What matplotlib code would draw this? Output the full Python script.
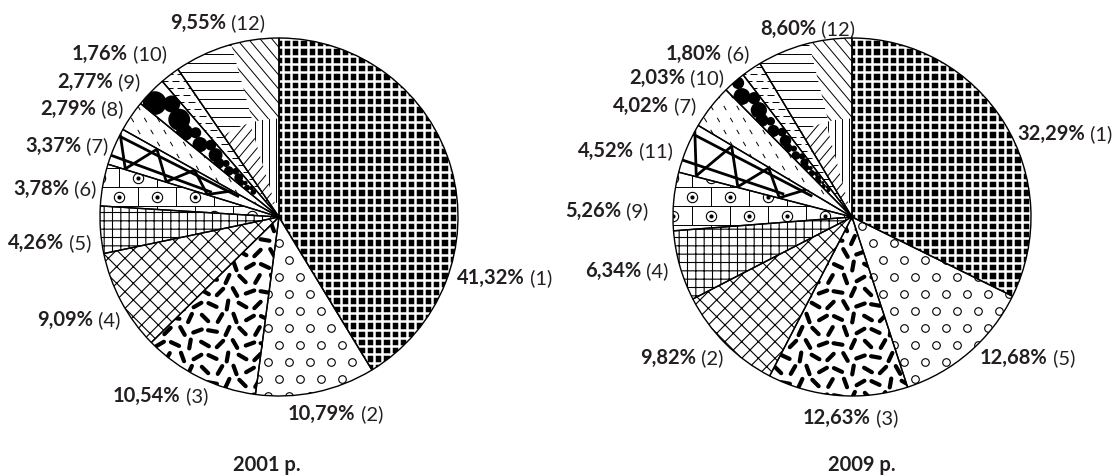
import numpy as np
import matplotlib
matplotlib.use('Agg')
import matplotlib.pyplot as plt
from matplotlib.patches import Wedge
from matplotlib.collections import LineCollection

W, H = 1116, 477

# data: slices in clockwise order starting at 12 o'clock
shares_2001 = [41.32, 10.79, 10.54, 9.09, 4.26, 3.78, 3.37, 2.79, 2.77, 1.76, 9.55]
groups_2001 = [1, 2, 3, 4, 5, 6, 7, 8, 9, 10, 12]
shares_2009 = [32.29, 12.68, 12.63, 9.82, 6.34, 5.26, 4.52, 4.02, 2.03, 1.80, 8.60]
groups_2009 = [1, 5, 3, 2, 4, 9, 11, 7, 10, 6, 12]
years = ['2001 р.', '2009 р.']

# layout (pixels from top-left)
pie_centers = [(279, 218), (852, 218)]
pie_radius = 179
label_pos_2001 = [(457, 277), (288, 413), (113, 395), (37, 319), (8, 242), (13, 188),
                  (25, 145), (40, 108), (57, 81), (72, 53), (170, 22)]
label_pos_2009 = [(1017, 133), (980, 357), (803, 417), (640, 357), (585, 270), (565, 210),
                  (578, 150), (613, 105), (629, 77), (666, 53), (760, 28)]
title_pos = [(267, 464), (862, 464)]

FAM = ['Lato', 'Noto Sans', 'DejaVu Sans']
FS = 14.5

plt.rcParams['hatch.linewidth'] = 0.8

fig = plt.figure(figsize=(W / 100, H / 100), dpi=100)
ax = fig.add_axes([0, 0, 1, 1])


def geom(w):
    cx, cy = w.center
    return cx, cy, w.r, w.theta1, w.theta2


def add(coll, clip):
    coll.set_clip_path(clip)
    coll.set_zorder(2)
    ax.add_collection(coll)


def grid_pts(w, dx, dy, stagger=True):
    cx, cy, R, _, _ = geom(w)
    pts = []
    for j, y in enumerate(np.arange(cy - R, cy + R + dy, dy)):
        off = dx / 2 if (stagger and j % 2) else 0
        for i, x in enumerate(np.arange(cx - R - off, cx + R + dx, dx)):
            pts.append((x, y, i, j))
    return pts


def parallel(clip, cx, cy, R, ang, sp, lw=0.7):
    a = np.radians(ang)
    d = np.array([np.cos(a), np.sin(a)])
    n = np.array([-np.sin(a), np.cos(a)])
    c = np.array([cx, cy])
    segs = [[c + k * n - 1.5 * R * d, c + k * n + 1.5 * R * d] for k in np.arange(-R, R, sp)]
    add(LineCollection(segs, colors='black', linewidths=lw), clip)


def sub_wedge(cx, cy, R, t1, t2, r_in, r_out):
    return Wedge((cx, cy), r_out, t1, t2, width=r_out - r_in, transform=ax.transData)


def pat_squares(w):
    cx, cy, R, _, _ = geom(w)
    w.set_facecolor('black')
    p = 8.3
    segs = []
    for k in np.arange(-R, R + p, p):
        segs.append([(cx - R, cy + k), (cx + R, cy + k)])
        segs.append([(cx + k, cy - R), (cx + k, cy + R)])
    add(LineCollection(segs, colors='white', linewidths=1.8), w)


def pat_circles(w):
    pts = grid_pts(w, 21, 17)
    sc = ax.scatter([p[0] for p in pts], [p[1] for p in pts], s=30, marker='o',
                    facecolors='white', edgecolors='black', linewidths=0.8)
    sc.set_clip_path(w)
    sc.set_zorder(2)


def pat_dashes(w):
    angs = [65, 155, 20, 110, 45, 135, 80, 170, 30, 120, 60, 150]
    segs = []
    for x, y, i, j in grid_pts(w, 15, 13):
        a = np.radians(angs[(i * 5 + j * 3) % len(angs)])
        dx, dy = 4.5 * np.cos(a), 4.5 * np.sin(a)
        segs.append([(x - dx, y - dy), (x + dx, y + dy)])
    add(LineCollection(segs, colors='black', linewidths=3.0, capstyle='round'), w)


def pat_cross(w):
    w.set_hatch('xx')


def pat_grid(w):
    w.set_hatch('++')


def pat_bricks(w):
    cx, cy, R, _, _ = geom(w)
    rh, bw = 19, 38
    segs = []
    cpts = []
    for j, y in enumerate(np.arange(cy - R, cy + R, rh)):
        segs.append([(cx - R, y), (cx + R, y)])
        off = bw / 2 if j % 2 else 0
        for x in np.arange(cx - R - off, cx + R, bw):
            segs.append([(x, y), (x, y + rh)])
            cpts.append((x + bw / 2, y + rh / 2))
    add(LineCollection(segs, colors='black', linewidths=0.7), w)
    xs = [p[0] for p in cpts]
    ys = [p[1] for p in cpts]
    sc = ax.scatter(xs, ys, s=55, facecolors='white', edgecolors='black', linewidths=0.8)
    sc.set_clip_path(w)
    sc.set_zorder(2)
    sc2 = ax.scatter(xs, ys, s=4, color='black')
    sc2.set_clip_path(w)
    sc2.set_zorder(2)


def polar(cx, cy, r, t):
    t = np.radians(t)
    return (cx + r * np.cos(t), cy + r * np.sin(t))


def pat_thick(w):
    cx, cy, R, t1, t2 = geom(w)
    dt = t2 - t1
    segs = [[polar(cx, cy, 0.25 * R, t1 + 0.2 * dt), polar(cx, cy, R, t1 + 0.2 * dt)],
            [polar(cx, cy, 0.4 * R, t1 + 0.75 * dt), polar(cx, cy, R, t1 + 0.75 * dt)]]
    rs = np.arange(0.3, 1.05, 0.12)
    for k in range(len(rs) - 1):
        f1 = 0.02 if k % 2 == 0 else 0.98
        f2 = 0.98 if k % 2 == 0 else 0.02
        segs.append([polar(cx, cy, rs[k] * R, t1 + f1 * dt), polar(cx, cy, rs[k + 1] * R, t1 + f2 * dt)])
    add(LineCollection(segs, colors='black', linewidths=2.0), w)


def pat_light(w):
    segs = []
    a = np.radians(120)
    for x, y, i, j in grid_pts(w, 13, 12):
        dx, dy = 2.5 * np.cos(a), 2.5 * np.sin(a)
        segs.append([(x - dx, y - dy), (x + dx, y + dy)])
    add(LineCollection(segs, colors='black', linewidths=0.7), w)


def pat_blobs(w):
    cx, cy, R, t1, t2 = geom(w)
    dt = t2 - t1
    tm = (t1 + t2) / 2
    sizes = [1.0, 0.7, 0.9, 0.6, 0.85]
    offs = [0.0, -0.22, 0.18, -0.1, 0.25]
    xs, ys, ss = [], [], []
    r = 0.2 * R
    k = 0
    while r < R:
        width = 2 * r * np.sin(np.radians(dt / 2))
        d = max(width * 0.9 * sizes[k % 5], 2.5)
        x, y = polar(cx, cy, r, tm + offs[k % 5] * dt)
        xs.append(x)
        ys.append(y)
        ss.append((d * 0.72) ** 2)
        r += max(d * 0.75, 3)
        k += 1
    sc = ax.scatter(xs, ys, s=ss, color='black', linewidths=0)
    sc.set_clip_path(w)
    sc.set_zorder(2)


def pat_hdash(w):
    cx, cy, R, _, _ = geom(w)
    segs = []
    for j, y in enumerate(np.arange(cy - R, cy + R, 7)):
        off = 5 if j % 2 else 0
        for x in np.arange(cx - R - off, cx + R, 11):
            segs.append([(x, y), (x + 7, y)])
    add(LineCollection(segs, colors='black', linewidths=0.7), w)


def pat_mixed(w):
    cx, cy, R, t1, t2 = geom(w)
    dt = t2 - t1
    parallel(sub_wedge(cx, cy, R, t1, t1 + 0.45 * dt, 0.55 * R, R), cx, cy, R, -50, 9)
    parallel(sub_wedge(cx, cy, R, t1 + 0.45 * dt, t2, 0.55 * R, R), cx, cy, R, 0, 9)
    parallel(sub_wedge(cx, cy, R, t1, t1 + 0.5 * dt, 0.08 * R, 0.55 * R), cx, cy, R, 90, 7)
    parallel(sub_wedge(cx, cy, R, t1 + 0.5 * dt, t2, 0.08 * R, 0.55 * R), cx, cy, R, 50, 8)


patterns = [pat_squares, pat_circles, pat_dashes, pat_cross, pat_grid, pat_bricks,
            pat_thick, pat_light, pat_blobs, pat_hdash, pat_mixed]

series = [(shares_2001, groups_2001, label_pos_2001), (shares_2009, groups_2009, label_pos_2009)]

for (shares, groups, lpos), (px, py) in zip(series, pie_centers):
    center = (px, H - py)
    fills, _ = ax.pie(shares, center=center, radius=pie_radius, startangle=90,
                      counterclock=False, normalize=True,
                      wedgeprops=dict(facecolor='white', edgecolor='black', linewidth=0))
    for w, pat in zip(fills, patterns):
        pat(w)
    ax.pie(shares, center=center, radius=pie_radius, startangle=90,
           counterclock=False, normalize=True,
           wedgeprops=dict(fill=False, edgecolor='black', linewidth=1.0, zorder=5))

ax.set_xlim(0, W)
ax.set_ylim(0, H)
ax.set_aspect('auto')
ax.axis('off')

renderer = fig.canvas.get_renderer()
inv = ax.transData.inverted()
for (shares, groups, lpos) in series:
    for v, g, (x, y) in zip(shares, groups, lpos):
        yb = H - (y + 7)
        t = ax.text(x, yb, f'{v:.2f}'.replace('.', ',') + '%', fontsize=FS, fontweight='bold',
                    family=FAM, ha='left', va='baseline', color='#231f20')
        bb = t.get_window_extent(renderer=renderer)
        x2 = inv.transform((bb.x1, bb.y0))[0]
        ax.text(x2, yb, f' ({g})', fontsize=FS, family=FAM, ha='left', va='baseline',
                color='#231f20')

for yr, (x, y) in zip(years, title_pos):
    ax.text(x, H - (y + 7), yr, fontsize=FS, fontweight='bold', family=FAM,
            ha='center', va='baseline', color='#231f20')

fig.savefig('out.png', dpi=100)
